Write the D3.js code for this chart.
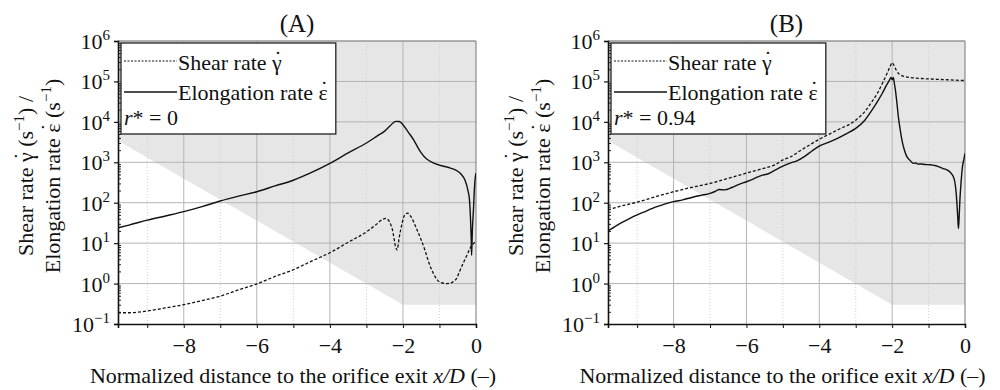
<!DOCTYPE html>
<html><head><meta charset="utf-8">
<script src="https://cdn.jsdelivr.net/npm/d3@7"></script>
<style>
body{margin:0;background:#fff}
text{font-family:"Liberation Serif","Times New Roman",serif;fill:#111}
</style>
</head><body>
<svg id="c" width="1000" height="390"></svg>
<script>
// ---------- data ----------
const xDomain = [-9.8, 0];
const yDomain = [0.1, 1e6];
const xTickValues = [-9, -8, -7, -6, -5, -4, -3, -2, -1, 0];
const xMajorTicks = [-8, -6, -4, -2, 0];
const xMinorTicks = [-9, -7, -5, -3, -1];
const yDecades = [-1, 0, 1, 2, 3, 4, 5, 6];
const panelTitles = ["(A)", "(B)"];
const rStarLabels = ["0", "0.94"];
const legendLabels = ["Shear rate ", "Elongation rate "];
const legendSymbols = ["\u03B3", "\u03B5"];
const xAxisTitle = "Normalized distance to the orifice exit ";

// shaded region lower boundary (filled up to the top)
const shadeX = [-9.8, -2, 0];
const shadeY = [3400, 0.3, 0.3];

// Panel A (r* = 0)
const aShearX = [-9.8,-9.5,-9,-8.5,-8,-7.5,-7,-6.5,-6,-5.5,-5,-4.5,-4,-3.5,-3,-2.75,-2.55,-2.47,-2.38,-2.28,-2.2,-2.16,-2.1,-2.02,-1.95,-1.87,-1.78,-1.63,-1.5,-1.4,-1.3,-1.17,-1.05,-0.95,-0.8,-0.7,-0.6,-0.53,-0.45,-0.35,-0.25,-0.16,-0.08,0];
const aShearY = [0.19,0.19,0.21,0.25,0.30,0.38,0.49,0.70,0.98,1.5,2.2,3.6,5.8,10.5,19,28,39,41,35,20,8,6.8,14,32,50,55,45,23,12,6.8,3.5,1.8,1.2,1.05,1.0,1.02,1.15,1.35,2.0,3.2,5,7.5,9.5,11];
const aElongX = [-9.8,-9.5,-9,-8.5,-8,-7.5,-7,-6.5,-6,-5.5,-5,-4.5,-4,-3.5,-3,-2.7,-2.5,-2.35,-2.2,-2.1,-2,-1.85,-1.7,-1.6,-1.5,-1.35,-1.2,-1.0,-0.7,-0.5,-0.4,-0.3,-0.22,-0.18,-0.15,-0.13,-0.12,-0.1,-0.07,-0.04,-0.02,0];
const aElongY = [24,28,37,47,60,80,110,145,187,260,360,560,940,1700,3000,4500,5900,8000,10300,10200,8500,5500,3500,2400,1700,1200,1000,850,720,600,500,360,200,120,40,12,5,20,66,250,420,540];

// Panel B (r* = 0.94)
const bShearX = [-9.8,-9.5,-9,-8.5,-8,-7.5,-7,-6.5,-6,-5.5,-5.2,-5,-4.8,-4.5,-4,-3.5,-3,-2.75,-2.55,-2.4,-2.27,-2.15,-2.05,-2.0,-1.95,-1.88,-1.8,-1.65,-1.5,-1.2,-0.87,-0.5,0];
const bShearY = [66,80,103,140,187,240,300,400,540,720,880,1150,1350,2000,3700,6300,11000,18000,32000,52000,89000,150000,240000,290000,250000,185000,150000,132000,125000,118000,114000,110000,105000];
const bElongX = [-9.8,-9.6,-9.4,-9.2,-9,-8.75,-8.5,-8.25,-8,-7.75,-7.5,-7.25,-7,-6.85,-6.75,-6.6,-6.4,-6.2,-6,-5.8,-5.6,-5.4,-5.2,-5,-4.8,-4.6,-4.4,-4.2,-4,-3.75,-3.5,-3.25,-3,-2.75,-2.55,-2.4,-2.27,-2.15,-2.08,-2.03,-2.0,-1.97,-1.94,-1.91,-1.87,-1.83,-1.78,-1.73,-1.67,-1.6,-1.5,-1.42,-1.35,-1.3,-1.2,-1.1,-0.96,-0.8,-0.6,-0.5,-0.4,-0.32,-0.28,-0.25,-0.22,-0.2,-0.18,-0.16,-0.14,-0.11,-0.07,-0.03,0];
const bElongY = [20,26,33,41,50,62,78,92,106,118,135,152,170,192,212,208,238,285,330,390,470,520,650,800,950,1100,1400,1900,2500,3100,3900,5100,6900,11000,19700,32000,51000,82000,105000,126000,110000,125000,90000,61000,30000,13500,6500,3500,2100,1400,1100,940,960,900,910,880,870,820,700,650,560,440,330,205,90,45,23,45,117,300,780,1200,1650];

const panels = [
  {title: panelTitles[0], rstar: rStarLabels[0], shearX: aShearX, shearY: aShearY, elongX: aElongX, elongY: aElongY},
  {title: panelTitles[1], rstar: rStarLabels[1], shearX: bShearX, shearY: bShearY, elongX: bElongX, elongY: bElongY}
];

// ---------- layout ----------
const geom = [{left: 118, right: 476}, {left: 608, right: 965}];
const plotTop = 41, plotBottom = 324;
const FS = 22, SUP = 15, TFS = 25;

const svg = d3.select("#c");

// append symbol with an overdot (inside the same text element); returns the text selection
function dottedSymbol(t, sym) {
  const s = t.append("tspan").text(sym);
  const d = t.append("tspan").attr("dy", -4).text("\u02D9");
  const w = s.node().getComputedTextLength();
  const dw = d.node().getComputedTextLength();
  d.attr("dx", -(w + dw) / 2 + 1);
  return (w - dw) / 2 - 1; // dx to restore pen position for following text
}

panels.forEach((p, i) => {
  const {left, right} = geom[i];
  const x = d3.scaleLinear().domain(xDomain).range([left, right]);
  const y = d3.scaleLog().domain(yDomain).range([plotBottom, plotTop]);
  const g = svg.append("g");

  const clipId = "clip" + i;
  svg.append("clipPath").attr("id", clipId).append("rect")
    .attr("x", left).attr("y", plotTop).attr("width", right - left).attr("height", plotBottom - plotTop);

  // shaded region
  const shade = shadeX.map((v, k) => [v, shadeY[k]]);
  g.append("path").datum(shade)
    .attr("d", d3.area().x(d => x(d[0])).y0(plotTop).y1(d => y(d[1])))
    .attr("fill", "#e6e6e6");

  // grid
  g.selectAll(".hg").data(yDecades.filter(d => d > -1)).join("line")
    .attr("x1", left).attr("x2", right)
    .attr("y1", d => y(Math.pow(10, d))).attr("y2", d => y(Math.pow(10, d)))
    .attr("stroke", "#b4b4b4").attr("stroke-width", 1);
  g.selectAll(".vg").data(xMajorTicks).join("line")
    .attr("x1", d => x(d)).attr("x2", d => x(d)).attr("y1", plotTop).attr("y2", plotBottom)
    .attr("stroke", d => d === 0 ? "#777" : "#b4b4b4").attr("stroke-width", 1);
  g.selectAll(".vm").data(xMinorTicks).join("line")
    .attr("x1", d => x(d)).attr("x2", d => x(d)).attr("y1", plotTop).attr("y2", plotBottom)
    .attr("stroke", "#cfcfcf").attr("stroke-width", 1).attr("stroke-dasharray", "1,2");
  g.append("line").attr("x1", left).attr("x2", right).attr("y1", plotTop).attr("y2", plotTop)
    .attr("stroke", "#888").attr("stroke-width", 1);

  // curves
  const line = d3.line().x(d => x(d[0])).y(d => y(d[1])).curve(d3.curveMonotoneX);
  const cg = g.append("g").attr("clip-path", `url(#${clipId})`);
  cg.append("path").datum(p.shearX.map((v, k) => [v, p.shearY[k]]))
    .attr("d", line).attr("fill", "none").attr("stroke", "#111")
    .attr("stroke-width", 1.3).attr("stroke-dasharray", "3,2");
  cg.append("path").datum(p.elongX.map((v, k) => [v, p.elongY[k]]))
    .attr("d", line).attr("fill", "none").attr("stroke", "#111").attr("stroke-width", 1.4);

  // legend
  const lg = g.append("g");
  const lx = left + 3, ly = 43;
  const box = lg.append("rect").attr("x", lx).attr("y", ly).attr("height", 91)
    .attr("fill", "#fff").attr("stroke", "#222").attr("stroke-width", 1.3);
  lg.append("line").attr("x1", lx + 3).attr("x2", lx + 56).attr("y1", 61).attr("y2", 61)
    .attr("stroke", "#111").attr("stroke-width", 1).attr("stroke-dasharray", "2,1.5");
  lg.append("line").attr("x1", lx + 3).attr("x2", lx + 56).attr("y1", 92).attr("y2", 92)
    .attr("stroke", "#111").attr("stroke-width", 1.4);
  const t1 = lg.append("text").attr("x", lx + 57).attr("y", 70).attr("font-size", FS);
  t1.append("tspan").text(legendLabels[0]);
  dottedSymbol(t1, legendSymbols[0]);
  const t2 = lg.append("text").attr("x", lx + 57).attr("y", 100).attr("font-size", FS);
  t2.append("tspan").text(legendLabels[1]);
  dottedSymbol(t2, legendSymbols[1]);
  const t3 = lg.append("text").attr("x", lx + 3).attr("y", 125).attr("font-size", FS);
  t3.append("tspan").attr("font-style", "italic").text("r");
  t3.append("tspan").text("* = " + p.rstar);
  const b1 = t1.node().getBBox(), b2 = t2.node().getBBox();
  box.attr("width", Math.max(b1.x + b1.width, b2.x + b2.width) - lx + 8);

  // axes
  const yMinor = [];
  yDecades.slice(0, -1).forEach(d => { for (let m = 2; m <= 9; m++) yMinor.push(m * Math.pow(10, d)); });
  g.append("g").attr("transform", `translate(${left},0)`)
    .call(d3.axisLeft(y).tickValues(yMinor).tickSize(-3).tickFormat(""))
    .call(a => a.select(".domain").remove())
    .call(a => a.selectAll("line").attr("stroke", "#222"));
  g.append("g").attr("transform", `translate(${left},0)`)
    .call(d3.axisLeft(y).tickValues(yDecades.map(d => Math.pow(10, d))).tickSize(4).tickFormat(""))
    .call(a => a.select(".domain").attr("stroke", "#111").attr("stroke-width", 1.6))
    .call(a => a.selectAll("line").attr("stroke", "#111").attr("stroke-width", 1.2));
  g.selectAll(".yl").data(yDecades).join("text")
    .attr("x", left - 8).attr("y", d => y(Math.pow(10, d)) + 8)
    .attr("text-anchor", "end").attr("font-size", FS)
    .each(function(d) {
      const t = d3.select(this);
      t.append("tspan").text("10");
      t.append("tspan").attr("dy", -9).attr("font-size", SUP).text(d < 0 ? "\u2212" + (-d) : d);
    });

  g.append("g").attr("transform", `translate(0,${plotBottom})`)
    .call(d3.axisBottom(x).tickValues(xTickValues).tickSize(4).tickPadding(9)
      .tickFormat(d => xMajorTicks.includes(d) ? d3.format("d")(d) : ""))
    .call(a => a.select(".domain").attr("stroke", "#111").attr("stroke-width", 1.6))
    .call(a => a.selectAll("line").attr("stroke", "#111"))
    .call(a => a.selectAll("text").attr("font-size", FS)
      .attr("font-family", '"Liberation Serif","Times New Roman",serif').attr("fill", "#111"));

  // title
  g.append("text").attr("x", (left + right) / 2).attr("y", 32)
    .attr("text-anchor", "middle").attr("font-size", TFS).text(p.title);

  // x-axis title
  const xt = g.append("text").attr("x", (left + right) / 2 - 4).attr("y", 383)
    .attr("text-anchor", "middle").attr("font-size", FS);
  xt.append("tspan").text(xAxisTitle);
  xt.append("tspan").attr("font-style", "italic").text("x/D");
  xt.append("tspan").text(" (\u2013)");

  // y-axis title (two lines)
  const cy = 176;
  const yl = [
    {dx: -85, pre: "Shear rate ", sym: "\u03B3", post: ") /"},
    {dx: -58, pre: "Elongation rate ", sym: "\u03B5", post: ")"}
  ];
  yl.forEach(L => {
    const t = g.append("text").attr("transform", `translate(${left + L.dx},${cy}) rotate(-90)`)
      .attr("text-anchor", "middle").attr("font-size", FS);
    t.append("tspan").text(L.pre);
    const back = dottedSymbol(t, L.sym);
    t.append("tspan").attr("dx", back).attr("dy", 4).text(" (s");
    t.append("tspan").attr("dy", -9).attr("font-size", SUP).text("\u22121");
    t.append("tspan").attr("dy", 9).text(L.post);
  });
});
</script>
</body></html>
